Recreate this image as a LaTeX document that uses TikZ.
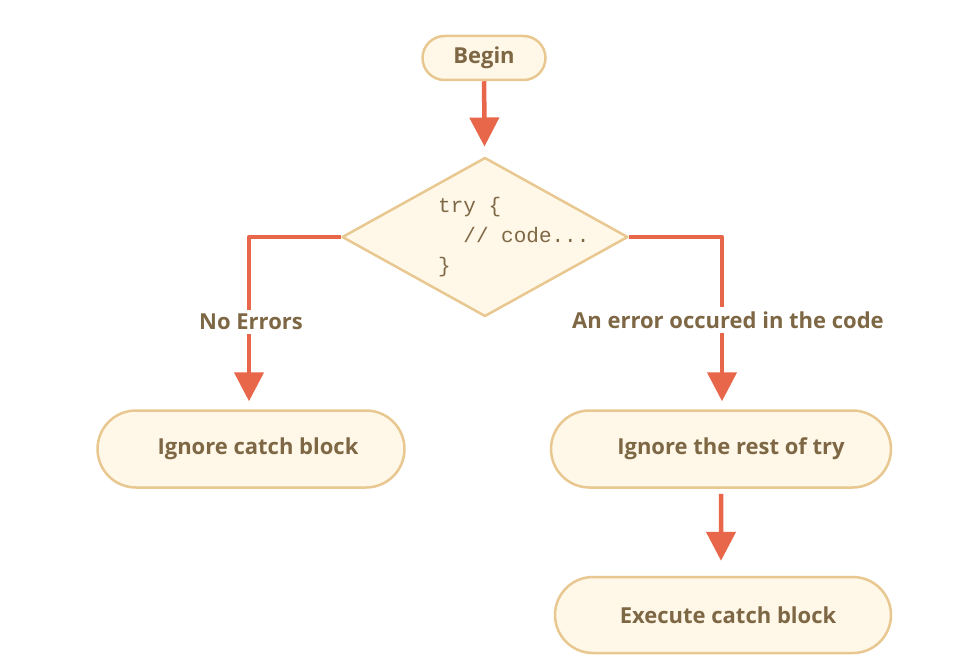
\documentclass[tikz,border=0pt]{standalone}
\usepackage{fontspec}
\setmainfont{Open Sans}
\setmonofont{Liberation Mono}
\usetikzlibrary{shapes.geometric,shapes.misc,arrows.meta}
\definecolor{flowred}{HTML}{E8674A}
\definecolor{boxfill}{HTML}{FFF8E8}
\definecolor{boxline}{HTML}{E8C890}
\definecolor{labelbrown}{HTML}{7E6744}
\begin{document}
\begin{tikzpicture}[x=1pt, y=-1pt, line join=round, >={Triangle[width=29pt,length=29pt]},
		font=\fontsize{22}{26}\selectfont\bfseries, text=labelbrown]
		\tikzset{pill/.style={rounded rectangle, draw=boxline, fill=boxfill, line width=2.5pt, inner sep=0pt},
			flow/.style={draw=flowred, line width=4.5pt},
			branch/.style={inner sep=4pt}}
		\useasboundingbox (0,0) rectangle (980,669);
		\node[pill, minimum width=123pt, minimum height=44pt] (begin) at (484,58) {Begin};
		\node[diamond, draw=boxline, fill=boxfill, line width=2.5pt, minimum width=286pt, minimum height=159pt, inner sep=0pt] (try) at (485,237) {};
		\node[anchor=west, align=left, font=\fontsize{21}{30}\selectfont\ttfamily, inner sep=0pt] (trycode) at (438,237) {try \{\\\phantom{tr}// code...\\\}};
		\node[branch] (noerr) at (251,322) {No Errors};
		\node[branch] (err) at (728,320) {An error occured in the code};
		\node[pill, minimum width=307pt, minimum height=77pt] (ignore) at (251,449) {\hspace*{14pt}Ignore catch block};
		\node[pill, minimum width=340pt, minimum height=77pt] (rest) at (721,449) {\hspace*{20pt}Ignore the rest of try};
		\node[pill, minimum width=336pt, minimum height=76pt] (catch) at (723,615) {\hspace*{10pt}Execute catch block};
		\draw[flow, ->, shorten >=10pt] (begin) -- (try);
		\draw[flow] (try.west) -| ([xshift=-2pt]noerr.north);
		\draw[flow, ->, shorten >=8pt] ([xshift=-2pt]noerr.south) -- ([xshift=-2pt]noerr.south |- ignore.north);
		\draw[flow] (try.east) -| ([xshift=-6pt]err.north);
		\draw[flow, ->, shorten >=8pt] ([xshift=-6pt]err.south) -- ([xshift=-6pt]err.south |- rest.north);
		\draw[flow, ->, shorten <=5pt, shorten >=15pt] (rest) -- (rest.south |- catch.north);
	\end{tikzpicture}
\end{document}
